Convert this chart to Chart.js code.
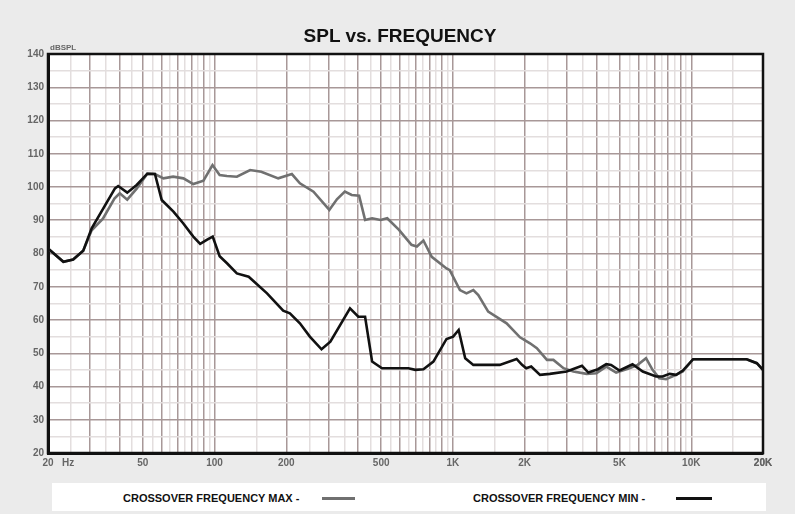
<!DOCTYPE html>
<html>
<head>
<meta charset="utf-8">
<script src="https://cdn.jsdelivr.net/npm/chart.js@4.4.1/dist/chart.umd.min.js"></script>
<style>
  html,body{margin:0;padding:0;background:#ebebeb;}
  #wrap{position:relative;width:795px;height:514px;font-family:"Liberation Sans",Arial,sans-serif;}
  #splChart{position:absolute;left:0;top:0;}
  #title{position:absolute;left:0;width:800px;top:25px;text-align:center;font-size:19px;font-weight:bold;color:#111;}
  #unit{position:absolute;left:50px;top:43px;font-size:8px;font-weight:bold;color:#666;}
  #hz{position:absolute;left:62px;top:457px;font-size:10px;font-weight:bold;color:#666;}
  #legend{position:absolute;left:52px;top:483px;width:714px;height:28px;background:#fff;}
  .lbl{position:absolute;top:9px;font-size:11px;font-weight:bold;color:#111;}
  .sw{position:absolute;top:14px;height:3px;}
</style>
</head>
<body>
<div id="wrap">
  <canvas id="splChart" width="795" height="514"></canvas>
  <div id="title">SPL vs. FREQUENCY</div>
  <div id="unit">dBSPL</div>
  <div id="hz">Hz</div>
  <div id="legend">
    <span class="lbl" style="left:71px">CROSSOVER FREQUENCY MAX -</span>
    <span class="sw" style="left:270px;width:33px;background:#707070"></span>
    <span class="lbl" style="left:421px">CROSSOVER FREQUENCY MIN -</span>
    <span class="sw" style="left:624px;width:36px;background:#111"></span>
  </div>
</div>
<script>
// crossover set to max
const maxFreq = [20, 23.2, 25.5, 28.1, 30.5, 34, 38, 40, 43, 47.1, 52.2, 56.2, 61, 67, 74, 81.4, 89.8, 98, 105, 112.6, 124, 141, 157, 185, 211, 228, 260, 303, 326, 352, 376, 404, 428, 458, 497, 530, 594, 670, 706, 752, 815, 940, 970, 1070, 1140, 1218, 1278, 1406, 1680, 1912, 2106, 2250, 2480, 2640, 2910, 3200, 3640, 4000, 4400, 4840, 5500, 5960, 6460, 6880, 7340, 7840, 8640, 9220, 10180, 17080, 18840, 20000];
const maxSpl = [81.5, 77.5, 78.2, 80.8, 87, 90.5, 96.5, 98.1, 96.2, 99.5, 104, 103.9, 102.6, 103.1, 102.6, 100.9, 101.9, 106.6, 103.6, 103.3, 103.1, 105.1, 104.6, 102.6, 103.9, 101.1, 98.6, 93.1, 96.3, 98.6, 97.6, 97.4, 90.1, 90.6, 90.1, 90.6, 87.1, 82.6, 82.1, 83.9, 79, 75.5, 75, 69, 68, 69, 67.5, 62.5, 59, 54.8, 53, 51.5, 48, 48, 45.5, 44.5, 43.8, 44, 46, 44.2, 45.5, 46.5, 48.5, 45, 42.5, 42.2, 43.5, 44.5, 48.2, 48.2, 47, 45];

// crossover set to min
const minFreq = [20, 23.2, 25.5, 28.1, 30.5, 38.2, 39.4, 43, 47.1, 52.2, 56.2, 60, 67.2, 73.8, 81.4, 87, 92.7, 98.2, 105, 113, 124, 139, 166, 194, 207, 228, 251, 281, 306, 370, 401, 428, 458, 504, 650, 695, 752, 828, 940, 1002, 1057, 1126, 1218, 1572, 1850, 1950, 2030, 2130, 2320, 2550, 3000, 3480, 3700, 4060, 4400, 4610, 5000, 5670, 6260, 7120, 7580, 8120, 8640, 9220, 10180, 17080, 18840, 20000];
const minSpl = [81.5, 77.5, 78.2, 80.8, 87.6, 99.6, 100.3, 98.3, 100.6, 104, 103.9, 96.1, 92.6, 89.1, 85.1, 82.9, 84.1, 85.1, 79.2, 77, 74, 73, 68, 62.8, 62, 59, 55, 51.2, 53.5, 63.5, 61, 61, 47.5, 45.5, 45.5, 45, 45.2, 47.5, 54.3, 55, 57, 48.5, 46.5, 46.5, 48.3, 46.5, 45.5, 46, 43.5, 43.8, 44.5, 46.2, 44.2, 45.2, 46.7, 46.5, 44.8, 46.7, 44.5, 43, 43, 43.8, 43.5, 44.8, 48.2, 48.2, 47, 45];

const xTickValues = [20, 50, 100, 200, 500, 1000, 2000, 5000, 10000, 20000];
const xTickLabels = ['20', '50', '100', '200', '500', '1K', '2K', '5K', '10K', '20K'];

// grid lines: dark at 20,30,...,100,200... light halfway (25,35,...)
const gridMajor = [];
const gridAll = [];
[10, 100, 1000, 10000].forEach(d => {
  for (let n = 1; n < 10; n += 0.5) {
    const v = n * d;
    if (v < 20 || v > 20000) continue;
    gridAll.push(v);
    if (Number.isInteger(n)) gridMajor.push(v);
  }
});
gridAll.push(20000); gridMajor.push(20000);

const frame = {
  id: 'frame',
  beforeDraw(chart){
    const a = chart.chartArea, c = chart.ctx;
    c.save(); c.fillStyle = '#fff';
    c.fillRect(a.left, a.top, a.right - a.left, a.bottom - a.top);
    c.restore();
  },
  afterDraw(chart){
    const a = chart.chartArea, c = chart.ctx;
    c.save(); c.strokeStyle = '#111'; c.lineWidth = 2.5;
    c.strokeRect(a.left, a.top, a.right - a.left, a.bottom - a.top);
    c.restore();
  }
};

const toPts = (fs, vs) => fs.map((f, i) => ({x: f, y: vs[i]}));

new Chart(document.getElementById('splChart'), {
  type: 'line',
  data: {
    datasets: [
      { label: 'CROSSOVER FREQUENCY MIN', data: toPts(minFreq, minSpl), borderColor: '#111', borderWidth: 2.6, pointRadius: 0, tension: 0, order: 1 },
      { label: 'CROSSOVER FREQUENCY MAX', data: toPts(maxFreq, maxSpl), borderColor: '#707070', borderWidth: 2.6, pointRadius: 0, tension: 0, order: 2 }
    ]
  },
  options: {
    responsive: false, animation: false,
    layout: { padding: { left: 0, right: 32, top: 54, bottom: 39 } },
    plugins: { legend: { display: false }, title: { display: false }, tooltip: { enabled: false } },
    scales: {
      x: {
        type: 'logarithmic', min: 20, max: 20000,
        afterBuildTicks: s => { s.ticks = gridAll.map(v => ({ value: v })); },
        afterFit: s => { s.height = 22; },
        grid: {
          drawTicks: false,
          color: ctx => gridMajor.includes(ctx.tick.value) ? '#a89898' : '#e3dede',
          lineWidth: 1.5
        },
        border: { display: true, color: '#111', width: 3 },
        ticks: {
          autoSkip: false, maxRotation: 0, padding: 4,
          color: '#666', font: { family: 'Liberation Sans', size: 10, weight: 'bold' },
          callback: v => { const i = xTickValues.indexOf(v); return i >= 0 ? xTickLabels[i] : ''; }
        }
      },
      y: {
        min: 20, max: 140,
        afterFit: s => { s.width = 48; },
        grid: {
          drawTicks: false,
          color: ctx => ctx.tick.value % 10 === 0 ? '#a89898' : '#e3dede',
          lineWidth: 1.5
        },
        border: { display: true, color: '#111', width: 3 },
        ticks: {
          stepSize: 5, padding: 4,
          color: '#666', font: { family: 'Liberation Sans', size: 10, weight: 'bold' },
          callback: v => v % 10 === 0 ? v : ''
        }
      }
    }
  },
  plugins: [frame]
});
</script>
</body>
</html>
